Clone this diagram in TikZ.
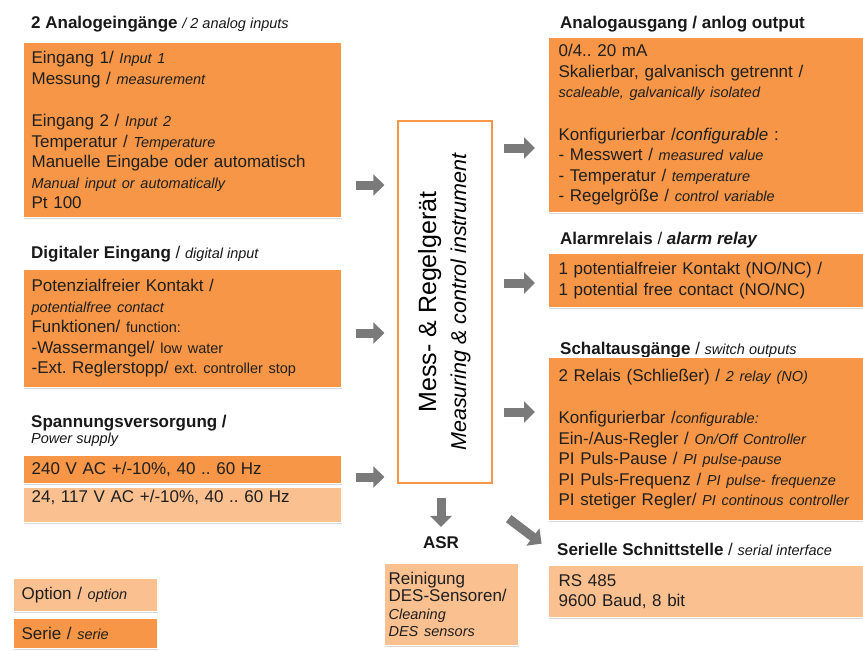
\documentclass[tikz,border=0pt]{standalone}
\usepackage{fontspec}
\setmainfont{Liberation Sans}
\usepackage{xcolor}
\usetikzlibrary{arrows.meta, shadows}
\definecolor{dorange}{HTML}{F79646}
\definecolor{lorange}{HTML}{FAC090}
\definecolor{agrey}{HTML}{7A7A7A}
\newcommand{\engl}[1]{{\fontsize{14.5}{20.5}\selectfont\mdseries\itshape #1}}
\newcommand{\engup}[1]{{\fontsize{14.5}{20.5}\selectfont #1}}
\frenchspacing
\tikzset{
  serie/.style={fill=dorange, draw=white, line width=1.2pt, anchor=north west, align=left,
    inner xsep=8pt, inner ysep=0pt, font=\fontsize{17}{20.5}\selectfont, text=black!88,
    drop shadow={shadow xshift=0.6pt, shadow yshift=-1.8pt, opacity=0.3}},
  option/.style={serie, fill=lorange},
  head/.style={anchor=base west, inner sep=0pt, font=\fontsize{17}{20.5}\selectfont\bfseries, text=black!90},
  bigarrow/.style={draw=agrey, line width=9pt, -{Triangle[length=11pt,width=21pt]}},
}

\begin{document}
\begin{tikzpicture}[x=1pt, y=-1pt]
\useasboundingbox (0,0) rectangle (863,651);
\fill[white] (0,0) rectangle (863,651);

\node[head] (t-ana) at (31,28) {2 Analogeingänge \engl{/ 2 analog inputs}};
\node[serie, text width=302pt, minimum height=175pt] (ana) at (23,42) {Eingang 1/ \engl{Input 1}\\
Messung / \engl{measurement}\\[22pt]
Eingang 2 / \engl{Input 2}\\
Temperatur / \engl{Temperature}\\
Manuelle Eingabe oder automatisch\\
\engl{Manual input or automatically}\\
Pt 100};

\node[head] (t-dig) at (31,258) {Digitaler Eingang {\mdseries /} \engl{digital input}};
\node[serie, text width=302pt, minimum height=118pt] (dig) at (23,269) {Potenzialfreier Kontakt /\\
\engl{potentialfree contact}\\
Funktionen/ \engup{function:}\\
-Wassermangel/ \engup{low water}\\
-Ext. Reglerstopp/ \engup{ext. controller stop}};

\node[head] (t-pw) at (31,427) {Spannungsversorgung /};
\node[head] (t-pw2) at (31,443) {\engl{Power supply}};
\node[serie, text width=302pt, minimum height=28pt] (pw1) at (23,455) {240 V AC +/-10\%, 40 .. 60 Hz};
\node[option, text width=302pt, minimum height=35pt] (pw2) at (23,487) {24, 117 V AC +/-10\%, 40 .. 60 Hz\\[-3pt]\mbox{}};

\node[option, text width=128pt, minimum height=33pt] (opt) at (13,578) {Option / \engl{option}};
\node[serie, text width=128pt, minimum height=30pt] (ser) at (13,618) {Serie / \engl{serie}};

\node[draw=dorange, line width=1.3pt, fill=white, minimum width=94pt, minimum height=362pt] (dev) at (445,302)
  {\rotatebox{90}{\fontsize{21.5}{30}\selectfont\begin{tabular}{@{}c@{}}
  {\fontsize{25}{30}\selectfont Mess- \& Regelgerät}\\
  \itshape Measuring \& control instrument\end{tabular}}};

\node[head] (t-aout) at (560,28) {Analogausgang / anlog output};
\node[serie, inner xsep=10pt, text width=300pt, minimum height=175pt] (aout) at (548,37) {0/4.. 20 mA\\
Skalierbar, galvanisch getrennt /\\
\engl{scaleable, galvanically isolated}\\[22pt]
Konfigurierbar /\textit{configurable} :\\
- Messwert / \engl{measured value}\\
- Temperatur / \engl{temperature}\\
- Regelgröße / \engl{control variable}};

\node[head] (t-alarm) at (560,244) {Alarmrelais {\mdseries /} \textit{alarm relay}};
\node[serie, inner xsep=10pt, text width=300pt, minimum height=54pt] (alarm) at (548,253) {1 potentialfreier Kontakt (NO/NC) /\\
1 potential free contact (NO/NC)};

\node[head] (t-sw) at (560,354) {Schaltausgänge {\mdseries /} \engl{switch outputs}};
\node[serie, inner xsep=10pt, text width=300pt, minimum height=163pt] (sw) at (548,357) {2 Relais (Schließer) / \engl{2 relay (NO)}\\[22pt]
Konfigurierbar /\engl{configurable:}\\
Ein-/Aus-Regler / \engl{On/Off Controller}\\
PI Puls-Pause / \engl{PI pulse-pause}\\
PI Puls-Frequenz / \engl{PI pulse- frequenze}\\
PI stetiger Regler/ \engl{PI continous controller}};

\node[head] (t-rs) at (557,555) {Serielle Schnittstelle {\mdseries /} \engl{serial interface}};
\node[option, inner xsep=10pt, text width=300pt, minimum height=52pt] (rs) at (548,565) {RS 485\\
9600 Baud, 8 bit};

\node[head, anchor=base] (asr) at (441,548) {ASR};
\node[option, inner xsep=4pt, text width=126pt, minimum height=82pt, font=\fontsize{17}{17.5}\selectfont] (clean) at (384,563) {Reinigung\\
DES-Sensoren/\\
\engl{Cleaning}\\
\engl{DES sensors}};

\draw[bigarrow, shorten <=14pt, shorten >=13pt] (ana.east |- 0,185) -- (dev.west |- 0,185);
\draw[bigarrow, shorten <=14pt, shorten >=13pt] (dig.east |- 0,333) -- (dev.west |- 0,333);
\draw[bigarrow, shorten <=14pt, shorten >=13pt] (pw1.east |- 0,477) -- (dev.west |- 0,477);
\draw[bigarrow, shorten <=11pt, shorten >=13pt] (dev.east |- 0,148) -- (aout.west |- 0,148);
\draw[bigarrow, shorten <=11pt, shorten >=13pt] (dev.east |- 0,283) -- (alarm.west |- 0,283);
\draw[bigarrow, shorten <=11pt, shorten >=13pt] (dev.east |- 0,412) -- (sw.west |- 0,412);
\draw[bigarrow, shorten <=14pt, shorten >=9pt] (dev.south -| asr.north) -- (asr.north);
\draw[bigarrow] (dev.south east) ++(16,35) -- ++(33,25);
\end{tikzpicture}
\end{document}
